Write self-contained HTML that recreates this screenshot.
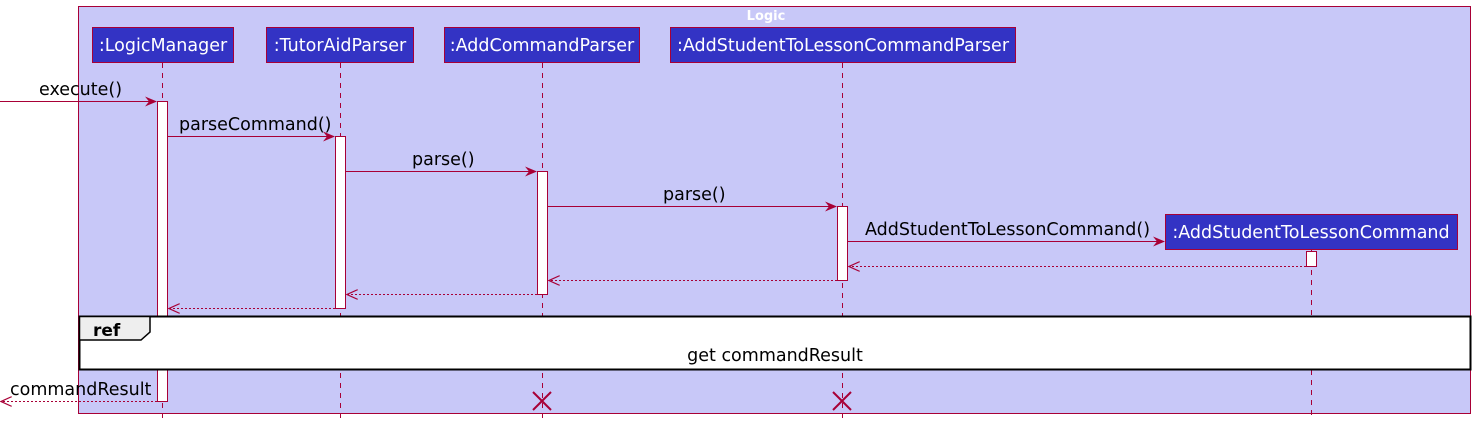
<!DOCTYPE html><html><head><style>body{margin:0;background:#fff}svg{display:block}text{font-family:"DejaVu Sans","Liberation Sans",sans-serif}</style></head><body>
<svg width="1476" height="425" xmlns="http://www.w3.org/2000/svg">
<defs><marker id="a" viewBox="0 0 12 10" refX="11" refY="5" markerWidth="12" markerHeight="10" orient="auto" markerUnits="userSpaceOnUse"><path d="M0,0 L12,5 L0,10 L4,5 Z" fill="#A80036"/></marker>
<marker id="o" viewBox="0 0 12 10" refX="11" refY="5" markerWidth="12" markerHeight="10" orient="auto" markerUnits="userSpaceOnUse"><path d="M0,0 L11,5 L0,10" fill="none" stroke="#A80036" stroke-width="1.2"/></marker></defs>
<rect x="78.5" y="6.5" width="1392" height="407" fill="#C8C8F8" stroke="#A80036"/>
<text x="766" y="20" font-size="13" font-weight="bold" fill="#fff" text-anchor="middle">Logic</text>
<g stroke="#A80036" stroke-dasharray="5,5">
<line x1="162.5" y1="63" x2="162.5" y2="418"/><line x1="340.5" y1="63" x2="340.5" y2="418"/><line x1="542.5" y1="63" x2="542.5" y2="418"/><line x1="842.5" y1="63" x2="842.5" y2="418"/><line x1="1311.5" y1="250" x2="1311.5" y2="418"/></g>
<g fill="#3333C4" stroke="#A80036">
<rect x="92.5" y="27.5" width="141" height="35"/><rect x="266.5" y="27.5" width="147" height="35"/><rect x="444.5" y="27.5" width="195" height="35"/><rect x="670.5" y="27.5" width="345" height="35"/><rect x="1165.5" y="214.5" width="292" height="35"/></g>
<g fill="#fff" font-size="17.5" text-anchor="middle">
<text x="163" y="51">:LogicManager</text><text x="340" y="51">:TutorAidParser</text><text x="542" y="51">:AddCommandParser</text><text x="843" y="51">:AddStudentToLessonCommandParser</text><text x="1311" y="238">:AddStudentToLessonCommand</text></g>
<g fill="#fff" stroke="#A80036">
<rect x="157.5" y="101.5" width="10" height="300"/><rect x="335.5" y="136.5" width="10" height="172"/><rect x="537.5" y="171.5" width="10" height="123"/><rect x="837.5" y="206.5" width="10" height="74"/><rect x="1306.5" y="251.5" width="10" height="15"/></g>
<g stroke="#A80036">
<line x1="0" y1="101.5" x2="156" y2="101.5" marker-end="url(#a)"/>
<line x1="168" y1="136.5" x2="334" y2="136.5" marker-end="url(#a)"/>
<line x1="346" y1="171.5" x2="536" y2="171.5" marker-end="url(#a)"/>
<line x1="548" y1="206.5" x2="836" y2="206.5" marker-end="url(#a)"/>
<line x1="848" y1="241.5" x2="1164" y2="241.5" marker-end="url(#a)"/>
<g stroke-dasharray="2,2">
<line x1="1306" y1="266.5" x2="849" y2="266.5" marker-end="url(#o)"/>
<line x1="837" y1="280.5" x2="549" y2="280.5" marker-end="url(#o)"/>
<line x1="537" y1="294.5" x2="347" y2="294.5" marker-end="url(#o)"/>
<line x1="335" y1="308.5" x2="169" y2="308.5" marker-end="url(#o)"/>
<line x1="157" y1="401.5" x2="1" y2="401.5" marker-end="url(#o)"/></g>
<path d="M533,392 L551,410 M551,392 L533,410 M833,392 L851,410 M851,392 L833,410" stroke-width="2"/></g>
<g font-size="17.5" fill="#000">
<text x="39" y="95">execute()</text><text x="179" y="130">parseCommand()</text><text x="412" y="165">parse()</text><text x="663" y="200">parse()</text><text x="865" y="235">AddStudentToLessonCommand()</text><text x="10" y="395">commandResult</text></g>
<rect x="79.5" y="316.5" width="1391" height="53" fill="#fff" stroke="#000" stroke-width="2"/>
<path d="M79.5,316.5 H150 V332 L141,340 H79.5 Z" fill="#EEEEEE" stroke="#000" stroke-width="1.5"/>
<text x="93" y="336" font-size="17" font-weight="bold">ref</text>
<text x="775" y="361" font-size="17.5" text-anchor="middle">get commandResult</text>
</svg></body></html>
